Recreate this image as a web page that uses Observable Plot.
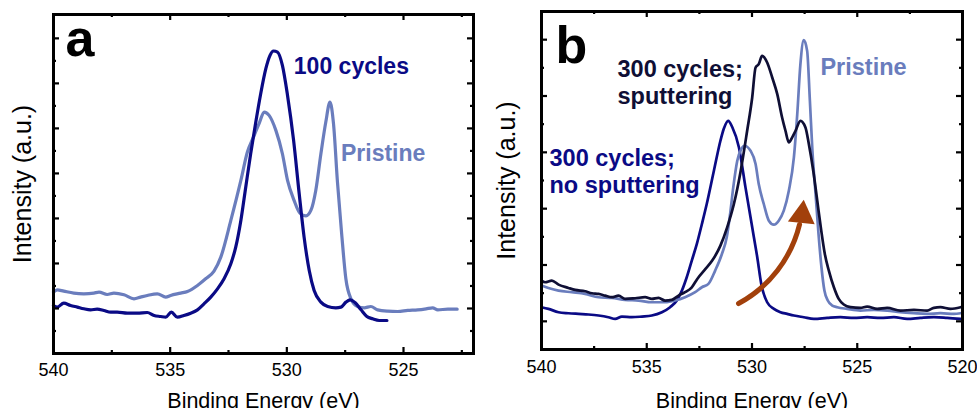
<!DOCTYPE html>
<html><head><meta charset="utf-8">
<script src="https://cdn.jsdelivr.net/npm/d3@7"></script>
<script src="https://cdn.jsdelivr.net/npm/@observablehq/plot@0.6"></script>
<style>
html,body{margin:0;padding:0;background:#fff;}
#wrap{display:flex;width:977px;height:408px;overflow:hidden;}
#wrap svg{display:block;overflow:hidden;}
</style></head><body><div id="wrap"></div>
<script>
// ---- Panel a data: [binding energy (eV), intensity (a.u.)]
const pristineA = [[540.0,1.363],[539.84,1.415],[539.56,1.385],[539.13,1.341],[538.70,1.326],[538.27,1.341],[538.05,1.363],[537.70,1.311],[537.41,1.341],[536.98,1.304],[536.55,1.215],[536.27,1.252],[535.98,1.289],[535.55,1.326],[535.19,1.252],[534.98,1.289],[534.55,1.341],[534.26,1.378],[533.83,1.511],[533.48,1.659],[533.12,1.83],[532.83,2.141],[532.40,2.956],[531.97,3.844],[531.69,4.474],[531.44,4.793],[531.19,5.104],[530.97,5.363],[530.76,5.289],[530.47,4.956],[530.19,4.437],[529.97,3.844],[529.69,3.4],[529.44,3.119],[529.18,3.059],[528.97,3.178],[528.76,3.622],[528.54,4.437],[528.33,5.141],[528.15,5.585],[528.00,5.104],[527.83,3.807],[527.65,2.659],[527.47,1.659],[527.25,1.215],[526.97,1.044],[526.68,1.015],[526.40,1.044],[526.11,0.97],[525.68,0.941],[525.25,0.933],[524.82,0.956],[524.39,0.97],[524.03,0.993],[523.75,1.015],[523.53,0.97],[523.10,0.985],[522.70,0.985]];
const cycles100A = [[540.0,1.067],[539.84,1.03],[539.56,1.119],[539.27,1.067],[538.98,1.03],[538.70,0.993],[538.41,0.97],[538.13,0.985],[537.84,0.956],[537.55,0.919],[537.27,0.919],[536.84,0.896],[536.41,0.896],[535.98,0.911],[535.69,0.844],[535.41,0.822],[535.19,0.807],[534.95,0.919],[534.69,0.807],[534.41,0.844],[534.12,0.896],[533.83,0.97],[533.55,1.104],[533.26,1.252],[532.98,1.43],[532.69,1.659],[532.40,1.993],[532.19,2.363],[531.97,2.956],[531.76,3.7],[531.55,4.437],[531.33,5.141],[531.12,5.77],[530.90,6.326],[530.72,6.622],[530.57,6.719],[530.40,6.696],[530.19,6.4],[529.97,5.733],[529.71,4.733],[529.47,3.548],[529.26,2.585],[529.04,1.844],[528.83,1.4],[528.54,1.141],[528.25,1.044],[527.90,1.015],[527.68,1.03],[527.47,1.141],[527.28,1.193],[527.08,1.133],[526.82,0.97],[526.57,0.822],[526.32,0.77],[526.04,0.733],[525.71,0.733]];

// ---- Panel b data
const pristineB = [[540.0,1.135],[539.67,1.093],[539.19,1.046],[538.56,1.017],[537.93,0.987],[537.29,0.928],[536.66,0.916],[536.03,0.881],[535.39,0.869],[534.76,0.839],[534.13,0.839],[533.65,0.869],[533.18,0.928],[532.70,1.017],[532.38,1.105],[532.07,1.164],[531.75,1.401],[531.43,1.696],[531.20,1.992],[531.04,2.405],[530.89,2.878],[530.70,3.351],[530.51,3.558],[530.36,3.617],[530.07,3.528],[529.83,3.292],[529.68,2.937],[529.44,2.583],[529.20,2.287],[528.96,2.216],[528.73,2.287],[528.49,2.465],[528.25,2.819],[528.01,3.41],[527.85,4.178],[527.70,5.065],[527.54,5.491],[527.38,5.301],[527.25,4.415],[527.13,3.528],[526.98,2.76],[526.84,2.051],[526.70,1.46],[526.56,1.046],[526.40,0.869],[526.19,0.78],[525.95,0.751],[525.48,0.721],[524.85,0.691],[524.21,0.703],[523.58,0.691],[522.95,0.662],[522.31,0.644],[521.68,0.632],[521.05,0.644],[520.41,0.632],[520.09,0.644]];
const sputterB = [[540.0,1.223],[539.83,1.194],[539.51,1.223],[539.19,1.152],[538.72,1.093],[538.40,1.058],[537.93,1.034],[537.61,0.999],[537.29,0.987],[536.98,0.957],[536.66,0.928],[536.34,0.957],[536.03,0.898],[535.55,0.91],[535.08,0.928],[534.76,0.898],[534.44,0.916],[534.13,0.869],[533.81,0.881],[533.49,0.957],[533.18,1.017],[532.86,1.105],[532.60,1.253],[532.21,1.43],[531.89,1.578],[531.50,1.844],[531.18,2.169],[530.86,2.583],[530.55,3.144],[530.23,3.883],[529.99,4.474],[529.83,5.006],[529.68,5.065],[529.52,5.213],[529.28,5.095],[529.04,4.829],[528.80,4.533],[528.57,4.119],[528.41,3.883],[528.25,3.676],[528.09,3.765],[527.93,3.883],[527.70,4.06],[527.46,3.942],[527.30,3.647],[527.09,3.174],[526.90,2.642],[526.71,2.11],[526.54,1.696],[526.35,1.401],[526.11,1.105],[525.88,0.898],[525.64,0.798],[525.32,0.751],[524.85,0.739],[524.53,0.762],[524.05,0.721],[523.58,0.739],[522.95,0.691],[522.31,0.703],[521.68,0.691],[521.36,0.739],[521.05,0.751],[520.57,0.721],[520.09,0.751]];
const noSputterB = [[540.0,0.751],[539.67,0.721],[539.19,0.662],[538.72,0.644],[538.24,0.632],[537.77,0.621],[537.29,0.603],[536.82,0.573],[536.50,0.544],[536.18,0.585],[535.71,0.573],[535.23,0.585],[534.76,0.603],[534.28,0.662],[533.89,0.751],[533.57,0.869],[533.33,1.046],[533.10,1.283],[532.86,1.578],[532.62,1.874],[532.38,2.228],[532.15,2.583],[531.81,3.174],[531.50,3.706],[531.34,3.92],[531.13,4.06],[530.94,3.95],[530.62,3.587],[530.31,2.878],[529.99,2.169],[529.75,1.637],[529.56,1.164],[529.28,0.839],[528.96,0.721],[528.65,0.662],[528.33,0.632],[528.01,0.603],[527.54,0.573],[527.06,0.544],[526.43,0.561],[525.80,0.573],[525.16,0.561],[524.53,0.573],[523.90,0.561],[523.26,0.573],[522.63,0.544],[522.00,0.561],[521.36,0.573],[520.73,0.561],[520.09,0.544]];

// ---- ticks
const xMajorA = [540, 535, 530, 525];
const xMinorA = [537.5, 532.5, 527.5, 522.5];
const yMajorA = [1, 2, 3, 4, 5, 6, 7];
const yMinorA = [0.5, 1.5, 2.5, 3.5, 4.5, 5.5, 6.5];
const xMajorB = [540, 535, 530, 525, 520];
const xMinorB = [537.5, 532.5, 527.5, 522.5];
const yMajorB = [0.5, 1.5, 2.5, 3.5, 4.5, 5.5];
const yMinorB = [1, 2, 3, 4, 5];

// ---- annotations
const labelsA = [
  {text: "100 cycles", x: 529.70, y: 6.2, color: "#0a0a85"},
  {text: "Pristine", x: 527.68, y: 4.27, color: "#6a7dbd"}
];
const labelsB = [
  {text: "300 cycles;\nsputtering", x: 536.39, y: 4.35, color: "#0f0f35"},
  {text: "Pristine", x: 526.75, y: 4.88, color: "#6a7dbd"},
  {text: "300 cycles;\nno sputtering", x: 539.62, y: 2.77, color: "#0a0a85"}
];
const arrowB = [{x1: 530.64, y1: 0.816, x2: 527.74, y2: 2.22}];
const arrowHeadB = [{x: 527.62, y: 2.385}];

const FONT = "'Liberation Sans', Arial, Helvetica, sans-serif";

function panel(cfg) {
  const innerH = cfg.height - cfg.marginTop - cfg.marginBottom;
  const innerW = cfg.width - cfg.marginLeft - cfg.marginRight;
  const tickStyle = {stroke: "#000", strokeWidth: 2.2};
  const ticks = (xs, ys, len) => [
    Plot.tickX(xs, {x: d => d, insetTop: innerH - len, ...tickStyle}),
    Plot.tickX(xs, {x: d => d, insetBottom: innerH - len, ...tickStyle}),
    Plot.tickY(ys, {y: d => d, insetRight: innerW - len, ...tickStyle}),
    Plot.tickY(ys, {y: d => d, insetLeft: innerW - len, ...tickStyle})
  ];
  return Plot.plot({
    width: cfg.width, height: cfg.height,
    marginLeft: cfg.marginLeft, marginRight: cfg.marginRight,
    marginTop: cfg.marginTop, marginBottom: cfg.marginBottom,
    style: {fontFamily: FONT, background: "#fff", overflow: "hidden"},
    x: {domain: cfg.xDomain, axis: null},
    y: {domain: cfg.yDomain, axis: null},
    color: {type: "identity"},
    marks: [
      ...cfg.series.map(s => Plot.line(s.data, {x: d => d[0], y: d => d[1], stroke: s.color, strokeWidth: s.width, curve: "monotone-x", strokeLinejoin: "round"})),
      ...(cfg.extra || []),
      Plot.text(cfg.labels, {x: "x", y: "y", text: "text", fill: "color", fontSize: cfg.labelSize, fontWeight: "bold", textAnchor: "start", lineAnchor: "bottom", lineHeight: cfg.lineHeight}),
      ...ticks(cfg.xMajor, cfg.yMajor, 6),
      ...ticks(cfg.xMinor, cfg.yMinor, 3),
      Plot.frame({stroke: "#000", strokeWidth: 3}),
      Plot.text(cfg.xMajor, {x: d => d, frameAnchor: "bottom", dy: cfg.tickDy, text: d => String(d), fontSize: 18, fill: "#000", textAnchor: "middle", lineAnchor: "bottom"}),
      Plot.text(["Binding Energy (eV)"], {frameAnchor: "bottom", dy: cfg.titleDy, text: d => d, fontSize: 21.5, fill: "#000", textAnchor: "middle", lineAnchor: "top"}),
      Plot.text(["Intensity (a.u.)"], {frameAnchor: "left", dx: cfg.yTitleDx, rotate: -90, text: d => d, fontSize: 25, fill: "#000", textAnchor: "middle", lineAnchor: "bottom"}),
      Plot.text([cfg.letter], {frameAnchor: "top-left", dx: cfg.letterDx, dy: cfg.letterDy, text: d => d, fontSize: 52, fontWeight: "bold", fill: "#000", textAnchor: "start", lineAnchor: "bottom"})
    ]
  });
}

const wrap = document.getElementById("wrap");
wrap.append(panel({
  width: 490, height: 408, marginLeft: 53, marginRight: 17, marginTop: 14, marginBottom: 55,
  xDomain: [540, 522], yDomain: [0, 7.53],
  series: [
    {data: pristineA, color: "#6a7dbd", width: 3.2},
    {data: cycles100A, color: "#0a0a85", width: 3.2}
  ],
  labels: labelsA, labelSize: 23, lineHeight: 1.17,
  xMajor: xMajorA, xMinor: xMinorA, yMajor: yMajorA, yMinor: yMinorA,
  tickDy: 22, titleDy: 39, yTitleDx: -23, letter: "a", letterDx: 12, letterDy: 41
}));
wrap.append(panel({
  width: 487, height: 408, marginLeft: 51, marginRight: 15, marginTop: 11, marginBottom: 59,
  xDomain: [540, 520], yDomain: [0, 6],
  series: [
    {data: noSputterB, color: "#0a0a85", width: 2.7},
    {data: pristineB, color: "#6a7dbd", width: 2.7},
    {data: sputterB, color: "#0f0f35", width: 2.7}
  ],
  extra: [
    Plot.arrow(arrowB, {x1: "x1", y1: "y1", x2: "x2", y2: "y2", bend: -24, stroke: "#a2400b", strokeWidth: 5, headLength: 0}),
    Plot.dot(arrowHeadB, {x: "x", y: "y", symbol: "triangle", r: 10, fill: "#a2400b", stroke: "none", rotate: 6})
  ],
  labels: labelsB, labelSize: 23.5, lineHeight: 1.17,
  xMajor: xMajorB, xMinor: xMinorB, yMajor: yMajorB, yMinor: yMinorB,
  tickDy: 23, titleDy: 43, yTitleDx: -27, letter: "b", letterDx: 14, letterDy: 51
}));
</script></body></html>
